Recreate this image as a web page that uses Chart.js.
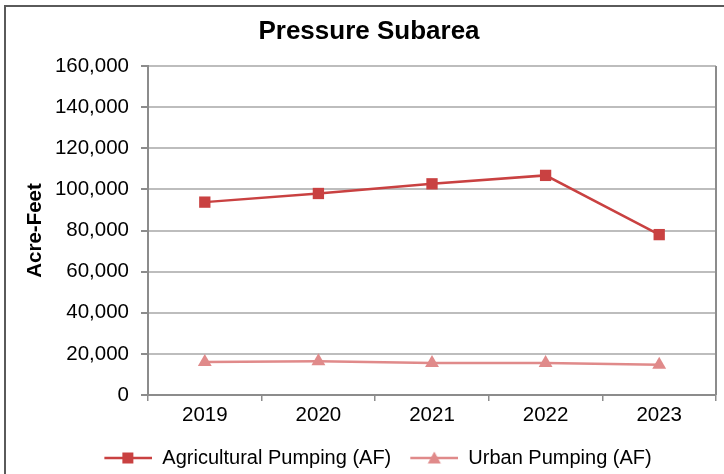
<!DOCTYPE html>
<html>
<head>
<meta charset="utf-8">
<script src="https://cdn.jsdelivr.net/npm/chart.js@4"></script>
<style>
  html, body { margin: 0; padding: 0; background: #fff; overflow: hidden; }
  #wrap { position: relative; width: 724px; height: 474px; }
  #frame { position: absolute; left: 4px; top: 5px; width: 760px; height: 520px; border: 2px solid #5a5a5a; box-sizing: border-box; }
  #chart { position: absolute; left: 0; top: 0; }
</style>
</head>
<body>
<div id="wrap">
  <div id="frame"></div>
  <canvas id="chart" width="724" height="474"></canvas>
</div>
<script>
const years = ["2019", "2020", "2021", "2022", "2023"];
const agPumping = [93800, 98000, 102700, 106800, 78000];
const urbanPumping = [16000, 16400, 15600, 15600, 14700];
const yTicks = [0, 20000, 40000, 60000, 80000, 100000, 120000, 140000, 160000];

const AG_COLOR = "#c94141";
const URBAN_COLOR = "#e08a8a";
const GRID_COLOR = "#bdbdbd";
const AXIS_COLOR = "#8c8c8c";
const FONT = "Liberation Sans, Arial, sans-serif";

// legend glyph: short line with the marker in the middle
function legendIcon(color, shape) {
  const c = document.createElement("canvas");
  c.width = 66;
  c.height = 16;
  const g = c.getContext("2d");
  g.strokeStyle = color;
  g.fillStyle = color;
  g.lineWidth = 2.5;
  g.beginPath();
  g.moveTo(18, 8);
  g.lineTo(66, 8);
  g.stroke();
  g.beginPath();
  if (shape === "rect") {
    g.rect(36, 2.5, 11, 11);
  } else {
    g.moveTo(42, 1.5);
    g.lineTo(48.5, 13.5);
    g.lineTo(35.5, 13.5);
    g.closePath();
  }
  g.fill();
  return c;
}

const plotFrame = {
  id: "plotFrame",
  beforeDatasetsDraw(chart) {
    const { ctx, chartArea } = chart;
    ctx.save();
    ctx.strokeStyle = AXIS_COLOR;
    ctx.lineWidth = 2;
    ctx.beginPath();
    ctx.moveTo(chartArea.right, chartArea.top);
    ctx.lineTo(chartArea.right, chartArea.bottom);
    ctx.stroke();
    ctx.restore();
  }
};

const icons = [legendIcon(AG_COLOR, "rect"), legendIcon(URBAN_COLOR, "triangle")];

new Chart(document.getElementById("chart"), {
  type: "line",
  data: {
    labels: years,
    datasets: [
      {
        label: "Agricultural Pumping (AF)",
        data: agPumping,
        borderColor: AG_COLOR,
        backgroundColor: AG_COLOR,
        borderWidth: 2.5,
        pointStyle: "rect",
        pointRadius: 8,
        pointBorderWidth: 0,
        tension: 0
      },
      {
        label: "Urban Pumping (AF)",
        data: urbanPumping,
        borderColor: URBAN_COLOR,
        backgroundColor: URBAN_COLOR,
        borderWidth: 2.5,
        pointStyle: "triangle",
        pointRadius: 8,
        pointBorderWidth: 0,
        tension: 0
      }
    ]
  },
  options: {
    responsive: false,
    animation: false,
    layout: { padding: { left: 19, right: 5, top: 0, bottom: -4 } },
    scales: {
      x: {
        offset: true,
        grid: { offset: true, drawOnChartArea: false, drawTicks: true, tickLength: 6, color: AXIS_COLOR, lineWidth: 1.5 },
        border: { color: AXIS_COLOR, width: 2 },
        ticks: { color: "#000", padding: 2, font: { family: FONT, size: 20.5 } },
        afterFit(scale) { scale.height = 52; }
      },
      y: {
        min: 0,
        max: 160000,
        afterBuildTicks(scale) { scale.ticks = yTicks.map(v => ({ value: v })); },
        grid: { color: GRID_COLOR, lineWidth: 2, tickLength: 7, tickColor: AXIS_COLOR },
        border: { color: AXIS_COLOR, width: 2 },
        ticks: {
          color: "#000",
          padding: 12,
          font: { family: FONT, size: 20.5 },
          callback: v => v.toLocaleString("en-US")
        },
        title: {
          display: true,
          text: "Acre-Feet",
          color: "#000",
          padding: { top: 4, bottom: 0 },
          font: { family: FONT, size: 20.5, weight: "bold" }
        },
        afterFit(scale) { scale.width = 129; }
      }
    },
    plugins: {
      title: {
        display: true,
        text: "Pressure Subarea",
        color: "#000",
        padding: { top: 16, bottom: 18.8 },
        font: { family: FONT, size: 26, weight: "bold" }
      },
      legend: {
        position: "bottom",
        labels: {
          color: "#000",
          padding: 1,
          usePointStyle: true,
          pointStyleWidth: 66,
          boxHeight: 16,
          font: { family: FONT, size: 20 },
          generateLabels(chart) {
            return chart.data.datasets.map((ds, i) => ({
              text: ds.label,
              pointStyle: icons[i],
              fillStyle: ds.borderColor,
              strokeStyle: ds.borderColor,
              lineWidth: 0,
              hidden: false,
              datasetIndex: i,
              fontColor: "#000"
            }));
          }
        }
      },
      tooltip: { enabled: false }
    }
  },
  plugins: [plotFrame]
});
</script>
</body>
</html>
